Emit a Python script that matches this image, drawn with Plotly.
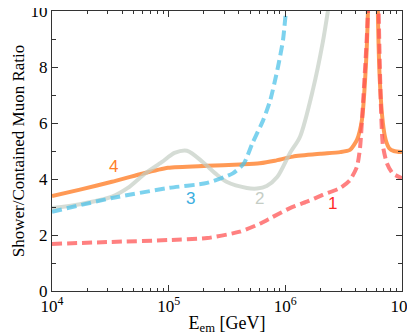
import plotly.graph_objects as go

# curve 4 (orange solid)
logE4 = [4.0, 4.24, 4.514, 4.754, 4.994, 5.328, 5.611, 5.78, 5.91, 6.065, 6.30, 6.47, 6.554, 6.614, 6.656, 6.69, 6.708, 6.75,
         6.793, 6.81, 6.836, 6.86, 6.89, 6.93, 7.0]
val4 = [3.39, 3.62, 3.90, 4.17, 4.40, 4.47, 4.52, 4.56, 4.65, 4.80, 4.90, 4.96, 5.04, 5.40, 6.10, 8.0, 10.0, 30.0,
        10.0, 7.5, 6.0, 5.4, 5.1, 5.0, 4.96]
# curve 2 (gray solid)
logE2 = [4.0, 4.24, 4.514, 4.65, 4.80, 4.94, 5.05, 5.157, 5.294, 5.40, 5.50, 5.67, 5.757, 5.84, 5.93, 6.04, 6.125, 6.237, 6.32, 6.365]
val2 = [2.96, 3.10, 3.37, 3.68, 4.20, 4.60, 4.93, 5.01, 4.60, 4.20, 3.89, 3.68, 3.66, 3.75, 4.07, 4.93, 5.50, 7.20, 8.86, 10.0]
# curve 3 (blue dashed)
logE3 = [4.0, 4.514, 5.0, 5.33, 5.55, 5.645, 5.72, 5.81, 5.87, 5.937, 5.98, 6.005]
val3 = [2.83, 3.32, 3.68, 3.86, 4.20, 4.56, 5.30, 6.10, 6.80, 8.00, 8.96, 10.0]
# curve 1 (red dashed)
logE1 = [4.0, 4.5, 5.0, 5.33, 5.61, 5.78, 5.89, 6.04, 6.185, 6.32, 6.47, 6.554, 6.614, 6.64, 6.67, 6.708, 6.75,
         6.80, 6.82, 6.836, 6.87, 6.92, 7.0]
val1 = [1.68, 1.75, 1.82, 1.89, 2.12, 2.40, 2.64, 2.96, 3.19, 3.43, 3.68, 3.96, 4.44, 5.10, 7.0, 10.0, 30.0,
        10.0, 6.5, 5.2, 4.57, 4.20, 4.03]

labels = ["4", "3", "2", "1"]
label_logE = [4.523, 5.19, 5.78, 6.40]
label_val = [4.43, 3.32, 3.29, 3.14]
label_colors = ["#ff7f2a", "#3aaee0", "#c5cdc5", "#ff2a2a"]

xtick_vals = [1e4, 1e5, 1e6, 1e7]
xtick_text = ["10<sup>4</sup>", "10<sup>5</sup>", "10<sup>6</sup>", "10<sup>7</sup>"]
x_minor_vals = [m * 10 ** d for d in (4, 5, 6) for m in range(2, 10)]
ytick_vals = [0, 2, 4, 6, 8, 10]

def E(l):
    return [10 ** v for v in l]

fig = go.Figure()
fig.add_trace(go.Scatter(x=E(logE4), y=val4, mode="lines", line=dict(color="rgba(255,127,42,0.8)", width=4, shape="spline", smoothing=0.6)))
fig.add_trace(go.Scatter(x=E(logE2), y=val2, mode="lines", line=dict(color="rgba(195,205,195,0.7)", width=4, shape="spline", smoothing=0.8)))
fig.add_trace(go.Scatter(x=E(logE3), y=val3, mode="lines", line=dict(color="rgba(80,195,232,0.75)", width=4, dash="10px,5px", shape="spline", smoothing=0.6)))
fig.add_trace(go.Scatter(x=E(logE1), y=val1, mode="lines", line=dict(color="rgba(255,85,85,0.75)", width=4, dash="10px,5px", shape="spline", smoothing=0.6)))

for t, lx, ly, c in zip(labels, label_logE, label_val, label_colors):
    fig.add_annotation(x=lx, y=ly, text=t, showarrow=False, font=dict(family="Liberation Sans, Arial", size=17, color=c))

serif = "Liberation Serif, Times New Roman"
axis_common = dict(showline=True, linecolor="#333", linewidth=1, mirror="ticks", ticks="inside",
                   tickcolor="#333", ticklen=6, showgrid=False, zeroline=False, automargin=False,
                   ticklabeloverflow="allow", tickfont=dict(family=serif, size=17, color="black"))

fig.update_xaxes(type="log", range=[4, 7], tickvals=xtick_vals, ticktext=xtick_text,
                 title=dict(text="E<sub>em</sub> [GeV]", font=dict(family=serif, size=18, color="black"), standoff=0),
                 minor=dict(ticks="inside", ticklen=3, tickcolor="#333", showgrid=False, tickmode="array", tickvals=x_minor_vals),
                 **axis_common)
fig.update_yaxes(range=[0, 10], tickvals=ytick_vals,
                 title=dict(text="Shower/Contained Muon Ratio", font=dict(family=serif, size=17, color="black"), standoff=1),
                 minor=dict(ticks="inside", ticklen=4, tickcolor="#333", dtick=1, showgrid=False),
                 **axis_common)

# the page body adds an 8px offset, so margins are reduced by 8 on the left/top
fig.update_layout(width=415, height=334, margin=dict(l=44, r=21, t=3, b=51, autoexpand=False),
                  plot_bgcolor="white", paper_bgcolor="white", showlegend=False)

fig.write_html("out.html")
